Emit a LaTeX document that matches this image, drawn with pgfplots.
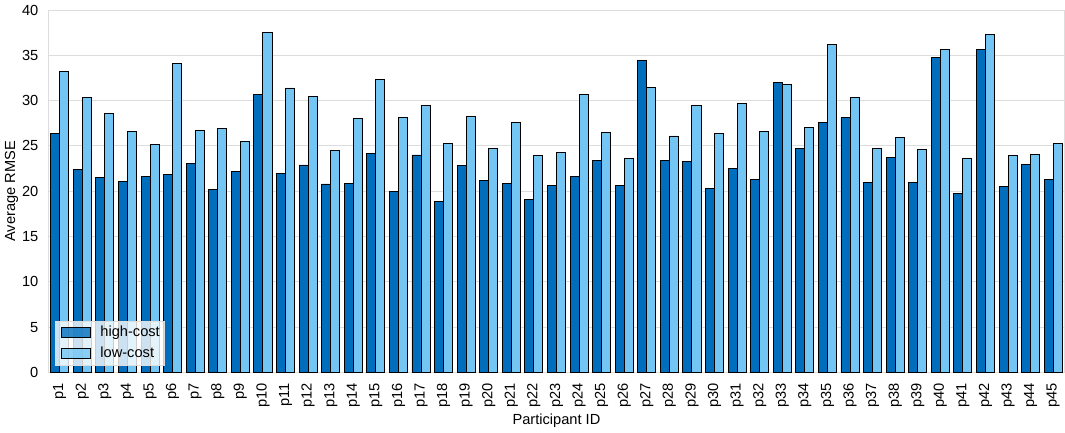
\documentclass[border=0pt]{standalone}
\usepackage{pgfplots}
\pgfplotsset{compat=1.18}
\usepackage{pgfplotstable}
\usepackage{fontspec}
\setmainfont{Liberation Sans}
\definecolor{hc}{HTML}{006DBD}
\definecolor{lc}{HTML}{73C5F3}
\definecolor{gridc}{HTML}{DDDDDD}
\pgfplotstableread{
x high low
0 26.4 33.2
1 22.4 30.4
2 21.5 28.6
3 21.1 26.6
4 21.6 25.2
5 21.9 34.1
6 23.1 26.7
7 20.2 26.9
8 22.2 25.5
9 30.7 37.5
10 22.0 31.4
11 22.9 30.5
12 20.8 24.5
13 20.9 28.0
14 24.2 32.3
15 20.0 28.1
16 24.0 29.5
17 18.9 25.3
18 22.8 28.3
19 21.2 24.7
20 20.9 27.6
21 19.1 23.9
22 20.6 24.3
23 21.6 30.7
24 23.4 26.5
25 20.6 23.6
26 34.4 31.5
27 23.4 26.1
28 23.3 29.5
29 20.3 26.4
30 22.5 29.7
31 21.3 26.6
32 32.0 31.8
33 24.7 27.0
34 27.6 36.2
35 28.1 30.3
36 21.0 24.7
37 23.7 25.9
38 21.0 24.6
39 34.8 35.6
40 19.7 23.6
41 35.7 37.3
42 20.5 23.9
43 23.0 24.1
44 21.3 25.3
}\data
\newcommand\fs{\fontsize{14.6bp}{17.5bp}\selectfont}
\begin{document}
\fs
\begin{tikzpicture}
\begin{axis}[
  scale only axis,
  width=1014bp, height=361.6bp,
  ybar, bar width=0.4,
  xmin=-0.5, xmax=44.5,
  ymin=0, ymax=40,
  ytick={0,5,...,40},
  xtick={0,...,44},
  xticklabels={p1,p2,p3,p4,p5,p6,p7,p8,p9,p10,p11,p12,p13,p14,p15,p16,p17,p18,p19,p20,p21,p22,p23,p24,p25,p26,p27,p28,p29,p30,p31,p32,p33,p34,p35,p36,p37,p38,p39,p40,p41,p42,p43,p44,p45},
  xticklabel style={rotate=90, anchor=east, font=\fs, xshift=-6bp},
  yticklabel style={font=\fs, xshift=-5bp},
  /pgf/number format/assume math mode=true,
  major tick length=0pt,
  axis line style={draw=gridc, line width=1bp},
  ymajorgrids, grid style={draw=gridc, line width=1bp},
  xlabel={Participant ID}, ylabel={Average RMSE},
  label style={font=\fs},
  xlabel style={yshift=4bp},
  ylabel style={yshift=-6bp},
  legend cell align=left,
  legend style={at={(0.0066,0.02)}, anchor=south west, draw=gridc, fill=white, fill opacity=0.8, text opacity=1, font=\fs, row sep=4bp, inner xsep=2bp, inner ysep=3bp},
  legend image code/.code={\draw[#1,draw=black,line width=0.9bp] (4bp,-5bp) rectangle (33bp,5bp); \path[draw=none,fill=none] (0bp,0bp) -- (41bp,0bp);},
]
\addplot[fill=hc, draw=black, line width=0.9bp, bar shift=-0.2] table[x=x,y=high] {\data};
\addplot[fill=lc, draw=black, line width=0.9bp, bar shift=0.2] table[x=x,y=low] {\data};
\legend{high-cost, low-cost}
\end{axis}
\end{tikzpicture}
\end{document}
